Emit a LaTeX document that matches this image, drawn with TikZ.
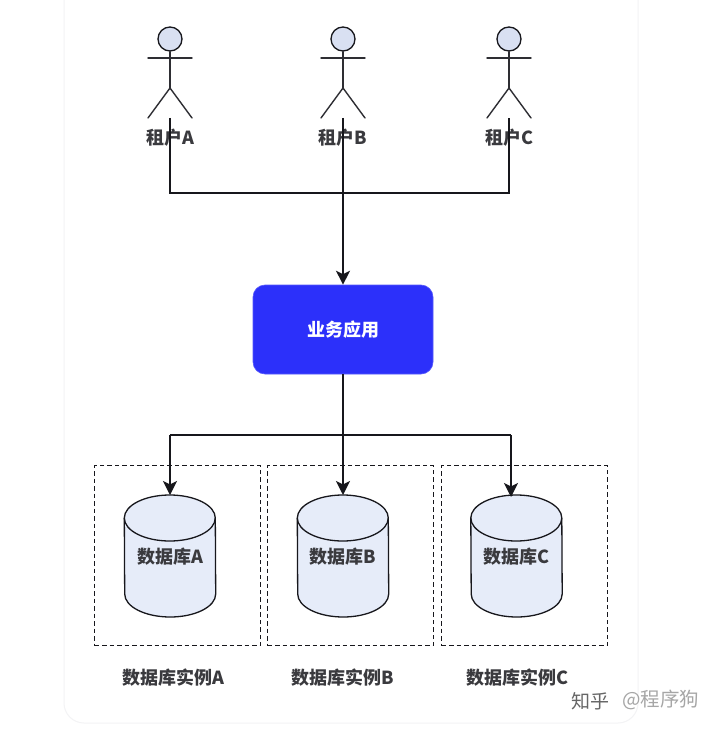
\documentclass[tikz,border=0pt]{standalone}
\usepackage{fontspec}
\setmainfont{Noto Sans CJK SC}
\usetikzlibrary{arrows.meta}
\definecolor{ink}{HTML}{17171C}
\definecolor{headfill}{HTML}{D9E0F2}
\definecolor{dbfill}{HTML}{E6ECF9}
\definecolor{appblue}{HTML}{2C30FA}
\definecolor{panel}{HTML}{F3F3F5}
\tikzset{
  lbl/.style={font=\fontsize{18}{20}\selectfont\bfseries,text=ink!85,inner sep=0pt},
  wire/.style={line width=1.5pt,draw=ink},
  arrowwire/.style={wire,-{Stealth[length=14pt,width=14pt,inset=3.5pt]}},
  limb/.style={line width=1.4pt,draw=ink!90,line cap=round},
  dbbox/.style={draw=ink,line width=1.2pt,dash pattern=on 4.5pt off 3pt,minimum width=166pt,minimum height=180pt,inner sep=0pt},
  dbbody/.style={minimum width=91pt,minimum height=121pt,inner sep=0pt},
  app/.style={fill=appblue,draw=appblue!80!white,line width=.6pt,rounded corners=12pt,minimum width=180pt,minimum height=89pt,text=white,font=\fontsize{18}{20}\selectfont\bfseries,inner sep=0pt},
  wmark/.style={font=\fontsize{19.5}{22}\selectfont,text=black!35,inner sep=0pt},
  wmarkb/.style={font=\fontsize{19}{22}\selectfont,text=black!60,inner sep=0pt}
}
\newcommand{\actor}[3]{% x, name, label
  \node[circle,draw=ink,fill=headfill,line width=1.3pt,minimum size=24pt,inner sep=0pt] (#2head) at (#1,39) {};
  \coordinate (#2hip) at (#1,88);
  \coordinate (#2foot) at (#1,118);
  \draw[limb] (#2head.south) -- (#2hip);
  \draw[limb] (#1-22,58) -- (#1+22,58);
  \draw[limb] (#1-22,118) -- (#2hip) -- (#1+22,118);
  \node[lbl] (#2label) at (#1,138) {#3};
}
\newcommand{\database}[5]{% x, name, label, box x, caption x
  \node[dbbox] (#2box) at (#4,555.5) {};
  \node[dbbody] (#2) at (#1,556) {};
  \filldraw[fill=dbfill,draw=ink,line width=1.3pt]
    ([yshift=38pt]#2.west) arc[start angle=180,end angle=0,x radius=45.5pt,y radius=23pt]
    -- ([yshift=-38pt]#2.east) arc[start angle=0,end angle=-180,x radius=45.5pt,y radius=23pt] -- cycle;
  \draw[draw=ink,line width=1.3pt]
    ([yshift=38pt]#2.west) arc[start angle=180,end angle=360,x radius=45.5pt,y radius=23pt];
  \node[lbl] (#2label) at (#1,557) {数据库#3};
  \node[lbl] (#2caption) at (#5,678) {数据库实例#3};
}
\begin{document}
\begin{tikzpicture}[x=1pt,y=-1pt]
\useasboundingbox (0,0) rectangle (720,730);
\fill[white] (0,0) rectangle (720,730);
\draw[panel,line width=1pt,rounded corners=20pt] (64,-30) rectangle (638,723);

\actor{170}{ua}{租户A}
\actor{343}{ub}{租户B}
\actor{509}{uc}{租户C}

\node[app] (app) at (343,329.5) {业务应用};

\coordinate (busa) at (170,193);
\coordinate (busb) at (343,193);
\coordinate (busc) at (509,193);
\draw[wire] (uafoot) -- (busa) -- (busc) -- (ucfoot);
\draw[arrowwire] (ubfoot) -- (app.north);

\database{170}{dba}{A}{177.5}{173}
\database{343}{dbb}{B}{350.5}{343}
\database{516.5}{dbc}{C}{524.5}{517}

\coordinate (spl) at (343,435);
\coordinate (spa) at (170,435);
\coordinate (spc) at (511,435);
\coordinate (dbatop) at (170,495);
\coordinate (dbbtop) at (343,495);
\coordinate (dbctop) at (511,497);
\draw[wire] (spa) -- (spc);
\draw[arrowwire] (spa) -- (dbatop);
\draw[arrowwire] (app.south) -- (dbbtop);
\draw[arrowwire] (spc) -- (dbctop);

\node[wmarkb] (wm1) at (590,701) {知乎};
\node[wmark] (wm2) at (661,700) {@程序狗};
\end{tikzpicture}
\end{document}
